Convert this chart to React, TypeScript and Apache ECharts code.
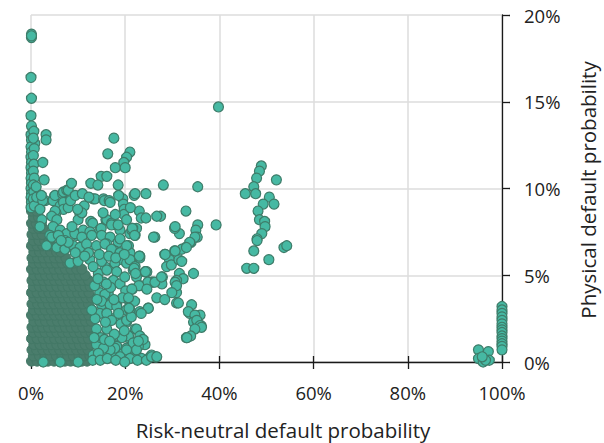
import React, { useEffect, useRef } from "react";
import * as echarts from "echarts";

const xTickValues = [0, 20, 40, 60, 80, 100];
const yTickValues = [0, 5, 10, 15, 20];
const xTitle = "Risk-neutral default probability";
const yTitle = "Physical default probability";

// Over-plotted mass (rows of [physical %, risk-neutral % list])
const coreRows: [number, number[]][] = [
  [0.05, [0.1, 1.3, 2.4, 3.6, 4.9, 6.0, 7.2, 8.4, 9.5, 10.8, 11.9]],
  [0.35, [0.5, 1.8, 3.0, 4.2, 5.4, 6.6, 7.8, 9.0, 10.2, 11.3, 12.5]],
  [0.7, [0.2, 1.2, 2.5, 3.7, 4.8, 6.1, 7.3, 8.5, 9.7, 10.9, 12.1]],
  [1.0, [0.6, 1.9, 3.1, 4.3, 5.5, 6.7, 7.9, 9.1, 10.3, 11.5, 12.7]],
  [1.35, [0.1, 1.3, 2.6, 3.8, 5.0, 6.2, 7.4, 8.6, 9.8, 11.0, 12.2]],
  [1.7, [0.5, 1.8, 3.0, 4.3, 5.5, 6.7, 7.9, 9.2, 10.4, 11.6, 12.8]],
  [2.0, [0.2, 1.4, 2.5, 3.7, 4.9, 6.1, 7.3, 8.5, 9.7, 11.0, 12.3]],
  [2.35, [0.6, 1.9, 3.1, 4.4, 5.6, 6.8, 8.0, 9.2, 10.4, 11.6, 12.8]],
  [2.7, [0.1, 1.3, 2.6, 3.8, 5.0, 6.2, 7.4, 8.6, 9.8, 11.1, 12.3]],
  [3.0, [0.5, 1.8, 3.0, 4.3, 5.5, 6.7, 7.9, 9.1, 10.3, 11.6, 12.9]],
  [3.35, [0.2, 1.4, 2.5, 3.7, 4.9, 6.1, 7.3, 8.6, 9.8, 11.0, 12.2]],
  [3.7, [0.6, 1.9, 3.1, 4.3, 5.6, 6.8, 8.0, 9.2, 10.4, 11.7, 12.9]],
  [4.0, [0.1, 1.3, 2.6, 3.8, 5.0, 6.2, 7.4, 8.6, 9.9, 11.1, 12.3]],
  [4.35, [0.5, 1.8, 3.0, 4.2, 5.5, 6.7, 7.9, 9.1, 10.3, 11.5, 12.6]],
  [4.7, [0.2, 1.4, 2.6, 3.8, 5.0, 6.2, 7.4, 8.6, 9.8, 11.0, 12.2]],
  [5.0, [0.6, 1.9, 3.1, 4.3, 5.5, 6.7, 7.9, 9.1, 10.3, 11.5]],
  [5.35, [0.1, 1.3, 2.5, 3.7, 4.9, 6.1, 7.3, 8.5, 9.7, 10.8]],
  [5.7, [0.5, 1.8, 3.0, 4.2, 5.4, 6.6, 7.8, 9.0]],
  [6.0, [0.2, 1.4, 2.6, 3.8, 5.0, 6.2, 7.4]],
  [6.35, [0.6, 1.8, 3.0, 4.2, 5.4, 6.3]],
  [6.7, [0.1, 1.3, 2.5, 3.7, 4.6]],
  [7.0, [0.5, 1.7, 2.9, 3.8]],
  [7.35, [0.2, 1.3, 2.4]],
  [7.7, [0.5, 1.6, 2.6]],
  [8.0, [0.1, 1.1, 2.2]],
  [8.35, [0.5, 1.6]],
  [8.7, [0.1, 1.2]],
  [9.0, [0.5]],
  [9.35, [0.1]],
];

// Individual points: [risk-neutral %, physical %]
const zeroColumn: [number, number][] = [
  [0.1, 18.9], [0.1, 18.7], [0.1, 18.8], [0.0, 16.4], [0.1, 15.2], [0.0, 14.2],
  [0.1, 13.6], [0.0, 13.1], [0.1, 12.8], [0.8, 12.6], [0.0, 12.4], [0.1, 12.1],
  [0.0, 11.8], [0.1, 11.5], [0.0, 11.2], [0.1, 10.9], [0.0, 10.6], [0.1, 10.3],
  [0.0, 10.0], [0.1, 9.7], [0.0, 9.5], [0.1, 9.2], [0.0, 8.9],
  [0.6, 13.3], [0.5, 12.9], [0.7, 12.3], [0.5, 11.9], [0.6, 11.4], [0.5, 11.0],
  [0.7, 10.6], [0.5, 10.2], [0.6, 9.8], [0.5, 9.4], [0.7, 9.0], [1.1, 10.1], [1.2, 9.5],
  [3.2, 13.1], [3.2, 12.8], [2.5, 11.5], [2.8, 10.5], [3.0, 9.3], [2.5, 9.3],
  [2.2, 9.6], [1.9, 8.8], [2.3, 8.2], [1.9, 7.8],
];

const lowRange: [number, number][] = [
  [4.9, 9.5], [4.7, 9.3], [5.1, 9.6], [6.7, 9.7], [6.9, 9.8], [7.6, 9.9], [7.9, 9.9],
  [8.6, 10.3], [6.2, 9.0], [6.9, 9.2], [6.9, 8.8], [7.9, 8.9], [5.3, 8.6], [5.1, 8.7],
  [4.4, 8.4], [5.5, 8.2], [4.7, 7.8], [6.2, 7.6], [7.6, 7.4], [9.7, 7.4], [4.0, 7.3],
  [9.7, 7.3], [7.2, 7.0], [4.4, 7.2], [5.8, 7.3], [9.3, 7.4], [3.3, 6.7], [5.5, 6.6],
  [7.2, 6.5], [9.0, 6.7], [10.4, 6.6], [8.3, 5.7], [10.0, 5.8],
  [11.3, 9.0], [10.4, 8.5], [10.0, 8.2], [10.8, 8.6], [12.7, 8.1], [13.1, 8.0],
  [11.1, 7.6], [12.5, 7.5], [14.6, 7.6], [14.9, 7.7], [10.8, 7.2], [12.9, 7.3],
  [15.0, 7.3], [16.8, 7.2], [18.5, 6.9], [21.0, 7.4], [22.1, 7.3], [26.3, 7.2],
  [12.7, 10.3], [14.9, 10.7], [16.1, 10.7], [17.9, 11.2], [18.5, 10.2], [16.3, 12.0],
  [17.6, 12.9], [21.0, 12.1], [20.3, 11.8], [19.7, 11.5], [20.0, 11.2],
  [13.2, 9.4], [13.6, 9.4], [15.4, 9.4], [15.6, 9.3], [16.6, 9.3], [16.8, 9.2],
  [19.5, 9.4], [19.6, 9.1], [19.8, 8.8], [19.7, 8.5], [21.9, 9.6], [15.9, 8.2],
  [16.1, 8.2], [17.1, 8.0], [18.2, 7.9], [18.9, 7.6], [17.1, 7.9], [18.5, 7.9],
  [20.3, 8.2], [21.4, 7.6], [22.4, 7.7], [21.6, 7.7], [18.9, 7.1], [16.1, 6.8],
  [20.7, 6.7], [17.8, 6.4], [21.0, 6.3], [19.3, 5.9], [21.7, 5.3], [17.5, 5.5],
  [15.7, 5.5], [20.3, 5.7], [11.8, 6.8], [13.9, 6.7], [15.7, 6.8], [17.1, 6.5],
  [18.9, 6.3], [20.3, 6.7], [23.1, 6.1], [21.0, 5.9], [22.1, 5.5], [24.2, 5.2],
  [25.6, 4.6], [12.5, 5.9], [15.0, 5.8], [17.8, 5.7], [14.3, 5.1], [16.1, 5.3],
  [18.2, 5.2], [15.4, 4.6], [17.5, 4.7], [14.6, 4.0], [16.4, 3.9], [18.2, 3.3],
  [15.0, 3.3], [20.3, 3.0], [21.0, 3.4], [23.1, 2.9], [24.9, 3.1], [14.6, 2.8],
  [17.1, 2.5], [18.9, 2.4], [20.3, 2.3], [13.9, 1.9], [16.1, 1.9], [18.9, 1.4],
  [20.7, 1.4], [22.1, 1.9], [23.1, 1.3], [24.2, 1.0], [22.8, 0.9], [13.9, 1.0],
  [16.4, 0.8], [18.2, 0.9], [20.3, 0.8], [13.2, 0.4], [15.4, 0.4], [17.5, 0.4],
  [19.6, 0.5], [21.7, 0.5], [25.3, 0.3], [26.3, 0.3], [2.6, 0.0], [6.2, 0.0], [10.0, 0.0],
  [15.7, 3.9], [15.0, 3.5], [16.8, 3.3], [18.2, 3.2], [16.1, 2.8], [17.1, 2.4],
  [19.1, 2.2], [20.3, 2.4], [21.0, 3.0], [20.7, 3.6], [21.5, 4.2], [23.1, 4.4],
  [24.2, 4.4], [22.4, 4.9], [24.6, 5.2], [22.4, 1.9], [23.1, 1.5], [23.8, 1.3],
  [20.7, 1.5], [19.3, 1.4], [21.7, 1.1], [22.4, 0.7], [20.3, 0.7], [17.8, 0.8],
  [16.8, 0.7], [15.4, 0.8], [14.3, 0.5], [18.9, 0.3], [21.0, 0.2], [23.5, 0.2],
  [25.6, 0.4], [26.5, 0.3],
  [13.5, 4.4], [14.0, 3.6], [13.6, 2.5], [14.8, 1.4], [13.4, 1.4], [12.9, 3.0],
  [13.2, 5.5], [14.5, 6.2], [16.5, 6.1], [18.0, 6.0], [19.8, 6.2], [16.9, 4.3],
  [18.9, 4.5], [19.9, 4.9], [20.1, 4.1], [19.4, 3.7], [17.6, 3.6], [16.0, 4.5],
  [14.2, 4.8], [17.7, 1.6], [15.6, 1.3], [16.7, 1.2], [19.8, 1.8], [21.3, 2.6],
  [22.0, 3.5], [18.6, 2.8], [15.8, 2.3], [13.1, 0.1], [14.7, 0.1], [16.2, 0.2],
  [18.0, 0.1], [19.9, 0.0], [22.6, 0.1], [24.5, 0.1], [12.2, 6.3], [11.4, 6.1],
  [9.4, 6.3], [7.9, 6.9], [6.4, 7.0], [8.7, 7.8], [9.9, 8.8], [8.4, 9.3],
  [9.4, 9.6], [10.9, 9.7], [12.3, 9.5], [14.2, 10.2], [15.3, 8.6], [17.9, 8.5],
  [18.6, 9.6], [23.0, 8.7], [21.1, 8.9],
];

const midRange: [number, number][] = [
  [28.1, 10.2], [35.4, 10.1], [39.8, 14.7], [22.1, 9.7], [24.4, 9.7], [23.4, 8.3],
  [24.4, 8.3], [27.5, 8.4], [26.7, 8.4], [32.9, 8.7], [39.3, 7.9], [35.4, 7.9],
  [35.0, 7.6], [35.3, 7.2], [34.0, 6.9], [32.8, 6.6], [32.0, 6.5], [30.5, 6.4],
  [34.5, 5.1], [31.5, 7.4], [30.5, 7.7], [30.6, 7.8], [26.0, 7.2], [28.4, 6.2],
  [29.4, 5.9], [28.8, 5.5], [29.8, 5.6], [31.4, 5.9], [32.0, 5.8], [31.5, 5.1],
  [32.3, 4.8], [30.9, 4.7], [27.9, 4.9], [27.8, 4.5], [25.9, 4.6], [24.8, 4.6],
  [24.3, 5.2], [23.1, 6.0], [21.9, 5.4], [22.2, 5.1], [23.0, 6.1], [21.5, 7.7],
  [22.0, 7.3], [22.9, 4.4], [24.6, 4.2], [21.4, 4.2], [20.7, 3.7], [26.7, 3.7],
  [28.4, 3.6], [30.9, 4.0], [30.9, 3.4], [31.3, 3.4], [34.1, 3.3], [33.7, 2.8],
  [35.9, 2.7], [36.1, 2.1], [33.4, 2.9], [34.8, 2.7], [34.5, 2.3], [35.2, 2.4],
  [35.9, 2.1], [36.2, 2.0], [34.8, 1.9], [33.0, 1.4], [33.9, 1.5], [33.1, 1.4],
  [24.9, 3.1], [23.4, 2.8], [20.8, 3.1], [22.8, 1.2], [25.6, 0.3], [26.7, 0.3],
  [30.6, 4.6], [30.9, 4.4], [29.9, 4.0], [26.3, 4.6], [27.7, 4.9], [34.8, 7.2],
  [33.7, 6.9], [33.0, 6.6], [30.6, 6.4], [28.5, 6.2],
];

const cluster50: [number, number][] = [
  [48.9, 11.3], [48.5, 11.0], [47.9, 10.6], [47.3, 10.1], [45.5, 9.7], [47.7, 9.7],
  [52.1, 10.5], [50.6, 9.5], [51.6, 9.1], [49.3, 9.1], [48.2, 8.7], [48.5, 8.2],
  [49.6, 8.1], [49.7, 7.8], [49.0, 7.4], [48.0, 7.1], [48.0, 7.0], [47.3, 6.4],
  [50.5, 5.9], [45.8, 5.4], [47.3, 5.4], [53.7, 6.6], [54.3, 6.7],
];

const cluster100: [number, number][] = [
  [100, 3.2], [100, 3.0], [100, 2.8], [100, 2.6], [100, 2.4], [100, 2.2], [100, 2.0],
  [100, 1.85], [100, 1.7], [100, 1.5], [100, 1.35], [100, 1.2], [100, 1.05], [100, 0.9],
  [100, 0.7], [95.0, 0.7], [97.1, 0.6], [95.0, 0.2], [96.0, 0.0], [97.3, 0.1],
  [96.5, 0.1], [95.8, 0.3],
];

const FONT = "'Open Sans', 'Noto Sans', sans-serif";
const TEXT = "#222222";

export default function App() {
  const ref = useRef<HTMLDivElement>(null);

  useEffect(() => {
    if (!ref.current) return;
    const chart = echarts.init(ref.current, null, { renderer: "svg" });
    const core = coreRows.flatMap(([y, xs]) => xs.map((x) => [x, y]));
    const points = [...zeroColumn, ...lowRange, ...midRange, ...cluster50, ...cluster100];

    chart.setOption({
      animation: false,
      backgroundColor: "#ffffff",
      grid: { left: 31, right: 102, top: 15, bottom: 81, containLabel: false },
      xAxis: [
        {
          type: "value",
          min: xTickValues[0],
          max: xTickValues[xTickValues.length - 1],
          interval: 20,
          position: "bottom",
          axisLine: { show: true, onZero: false, lineStyle: { color: "#1a1a1a", width: 1.3 } },
          axisTick: { show: true, length: 7, lineStyle: { color: "#1a1a1a", width: 1.3 } },
          axisLabel: {
            margin: 21,
            formatter: "{value}%",
            color: TEXT,
            fontSize: 18.5,
            fontFamily: FONT,
          },
          splitLine: { show: true, lineStyle: { color: "#dcdcdc", width: 1.5 } },
        },
        {
          type: "value",
          min: xTickValues[0],
          max: xTickValues[xTickValues.length - 1],
          interval: 20,
          position: "bottom",
          axisLine: { show: false, onZero: false },
          axisTick: { show: true, inside: true, length: 6, lineStyle: { color: "#1a1a1a", width: 1.3 } },
          axisLabel: { show: false },
          splitLine: { show: false },
        },
      ],
      yAxis: {
        type: "value",
        position: "right",
        min: yTickValues[0],
        max: yTickValues[yTickValues.length - 1],
        interval: 5,
        axisLine: { show: true, onZero: false, lineStyle: { color: "#1a1a1a", width: 1.3 } },
        axisTick: { show: true, length: 8, lineStyle: { color: "#1a1a1a", width: 1.3 } },
        axisLabel: {
          margin: 22,
          formatter: "{value}%",
          color: TEXT,
          fontSize: 18.5,
          fontFamily: FONT,
        },
        splitLine: { show: true, lineStyle: { color: "#dcdcdc", width: 1.5 } },
      },
      graphic: [
        {
          type: "text",
          x: 283,
          y: 430,
          style: {
            text: xTitle,
            fill: TEXT,
            fontSize: 20.5,
            fontFamily: FONT,
            align: "center",
            verticalAlign: "middle",
          },
        },
        {
          type: "text",
          x: 588,
          y: 190,
          rotation: Math.PI / 2,
          style: {
            text: yTitle,
            fill: TEXT,
            fontSize: 20.5,
            fontFamily: FONT,
            align: "center",
            verticalAlign: "middle",
          },
        },
      ],
      series: [
        {
          type: "scatter",
          data: core,
          symbolSize: 10,
          clip: false,
          silent: true,
          itemStyle: { color: "#4a7d6c", borderColor: "#437866", borderWidth: 1, opacity: 1 },
        },
        {
          type: "scatter",
          data: points,
          symbolSize: 10,
          clip: false,
          itemStyle: { color: "#46b9a3", borderColor: "#3e7c69", borderWidth: 1.2, opacity: 1 },
        },
      ],
    });
    return () => chart.dispose();
  }, []);

  return (
    <div
      ref={ref}
      style={{ position: "fixed", left: 0, top: 0, width: 604, height: 443 }}
    />
  );
}
